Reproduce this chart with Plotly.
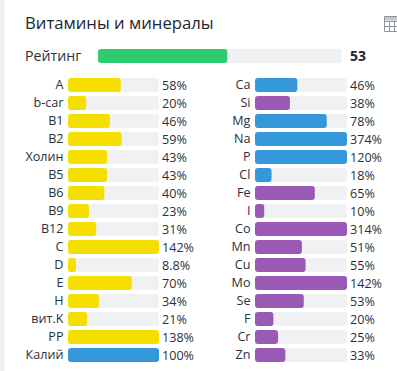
import plotly.graph_objects as go
import numpy as np

W, H = 397, 371
FONT = "Open Sans"
TEXT = "#2b3038"

vit_names = ["A", "b-car", "B1", "B2", "Холин", "B5", "B6", "B9", "B12", "C", "D", "E", "H", "вит.K", "PP", "Калий"]
vit_values = [58, 20, 46, 59, 43, 43, 40, 23, 31, 142, 8.8, 70, 34, 21, 138, 100]
vit_labels = ["58%", "20%", "46%", "59%", "43%", "43%", "40%", "23%", "31%", "142%", "8.8%", "70%", "34%", "21%", "138%", "100%"]
vit_colors = ["#f4df00"] * 15 + ["#3498db"]

min_names = ["Ca", "Si", "Mg", "Na", "P", "Cl", "Fe", "I", "Co", "Mn", "Cu", "Mo", "Se", "F", "Cr", "Zn"]
min_values = [46, 38, 78, 374, 120, 18, 65, 10, 314, 51, 55, 142, 53, 20, 25, 33]
min_labels = ["46%", "38%", "78%", "374%", "120%", "18%", "65%", "10%", "314%", "51%", "55%", "142%", "53%", "20%", "25%", "33%"]
BLUE, PURPLE = "#3498db", "#9b59b6"
min_colors = [BLUE, PURPLE, BLUE, BLUE, BLUE, BLUE, PURPLE, PURPLE, PURPLE, PURPLE, PURPLE, PURPLE, PURPLE, PURPLE, PURPLE, PURPLE]

rating_name = "Рейтинг"
rating_value = 53
title = "Витамины и минералы"
TRACK = "#f0f1f3"

fig = go.Figure()


def dom_x(a, b):
    return [a / W, b / W]


def dom_y(top, bottom):
    return [1 - bottom / H, 1 - top / H]


def round_bar(names, values, colors, xa, ya, width):
    """Plotly rounds a bar's far end only, so each bar is two overlapping pieces with opposite far ends."""
    v = np.minimum(np.asarray(values, dtype=float), 100)
    for base, length in ((v / 4, 3 * v / 4), (3 * v / 4, -3 * v / 4)):
        fig.add_bar(y=names, x=length, base=base, orientation="h", marker=dict(color=colors, line_width=0),
                    xaxis=xa, yaxis=ya, width=width, hoverinfo="skip", showlegend=False)


def panel(names, values, labels, colors, xa, ya):
    n = len(names)
    round_bar(names, [100] * n, [TRACK] * n, xa, ya, 0.78)
    round_bar(names, values, colors, xa, ya, 0.78)
    for name, lab in zip(names, labels):
        fig.add_annotation(text=lab, x=1, xref=f"{xa} domain", y=name, yref=ya, xanchor="left", xshift=3,
                           yanchor="middle", showarrow=False, font=dict(family=FONT, size=12.6, color=TEXT),
                           borderpad=0, borderwidth=0)


panel(vit_names, vit_values, vit_labels, vit_colors, "x", "y")
panel(min_names, min_values, min_labels, min_colors, "x2", "y2")

round_bar([rating_name], [100], [TRACK], "x3", "y3", 1)
round_bar([rating_name], [rating_value], ["#2ecc71"], "x3", "y3", 1)

xcommon = dict(range=[0, 100], visible=False, fixedrange=True)


def ycommon(n):
    return dict(type="category", autorange=False, range=[n - 0.5, -0.5], showgrid=False, zeroline=False, showline=False,
                ticks="outside", ticklen=1, tickcolor="rgba(0,0,0,0)", tickfont=dict(family=FONT, size=12.6, color=TEXT),
                fixedrange=True)


fig.update_layout(
    width=W, height=H, autosize=False,
    margin=dict(l=0, r=0, t=0, b=0, pad=0),
    paper_bgcolor="white", plot_bgcolor="white",
    barmode="overlay", barcornerradius=3, showlegend=False,
    font=dict(family=FONT, color=TEXT),
    xaxis=dict(domain=dom_x(68, 159), anchor="y", **xcommon),
    xaxis2=dict(domain=dom_x(255, 347), anchor="y2", **xcommon),
    xaxis3=dict(domain=dom_x(98, 342), anchor="y3", **xcommon),
    yaxis=dict(domain=dom_y(76, 364), anchor="x", **ycommon(16)),
    yaxis2=dict(domain=dom_y(76, 364), anchor="x2", **ycommon(16)),
    yaxis3=dict(domain=dom_y(49, 63), anchor="x3", type="category", showgrid=False, zeroline=False,
                showticklabels=False, fixedrange=True),
)

fig.add_annotation(text=title, x=25 / W, y=1 - 23 / H, xref="paper", yref="paper", xanchor="left", yanchor="middle",
                   xshift=-2, showarrow=False, font=dict(family=FONT, size=16.7, color="#23272e"))
fig.add_annotation(text=rating_name, x=25 / W, y=1 - 56 / H, xref="paper", yref="paper", xanchor="left",
                   yanchor="middle", xshift=-2, showarrow=False, font=dict(family=FONT, size=14.2, color=TEXT))
fig.add_annotation(text=f"<b>{rating_value}</b>", x=350 / W, y=1 - 56 / H, xref="paper", yref="paper", xanchor="left",
                   yanchor="middle", xshift=-2, showarrow=False, font=dict(family=FONT, size=14, color="#23272e"))

# page edge strip
fig.add_shape(type="rect", xref="paper", yref="paper", x0=0, x1=4.7 / W, y0=0, y1=1, fillcolor="#f0f1f4", line_width=0)

# table icon at the top right, cut by the page edge
ICON = "#8f949b"
fig.add_shape(type="rect", xref="paper", yref="paper", x0=384.5 / W, x1=399 / W, y0=1 - 16.5 / H, y1=1 - 31.5 / H,
              line=dict(color=ICON, width=1), fillcolor="rgba(0,0,0,0)")
fig.add_shape(type="rect", xref="paper", yref="paper", x0=385 / W, x1=397 / W, y0=1 - 17 / H, y1=1 - 20.5 / H,
              fillcolor="#c4c7cb", line_width=0)
for y in [21, 26]:
    fig.add_shape(type="line", xref="paper", yref="paper", x0=384.5 / W, x1=397 / W, y0=1 - (y + 0.5) / H,
                  y1=1 - (y + 0.5) / H, line=dict(color=ICON, width=1))
for x in [389, 394]:
    fig.add_shape(type="line", xref="paper", yref="paper", x0=(x + 0.5) / W, x1=(x + 0.5) / W, y0=1 - 21 / H,
                  y1=1 - 31.5 / H, line=dict(color=ICON, width=1))

fig.write_html("out.html", post_script="document.body.style.margin='0';document.body.style.overflow='hidden';",
               config=dict(displayModeBar=False))
